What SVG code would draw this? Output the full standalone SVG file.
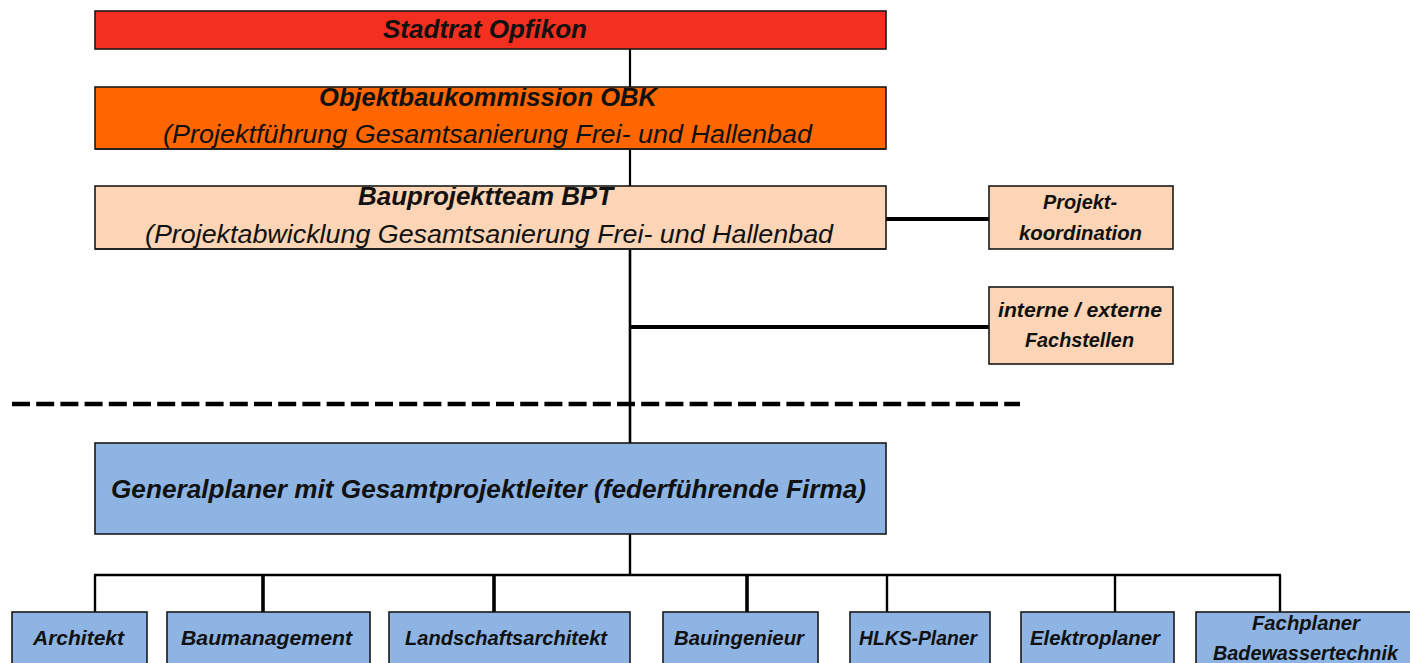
<svg xmlns="http://www.w3.org/2000/svg" width="1410" height="663" viewBox="0 0 1410 663">
<style>
.box{stroke:#1a1a1a;stroke-width:1.6}
.red{fill:#F32F1F}
.orange{fill:#FF6600}
.peach{fill:#FBD5B5}
.blue{fill:#8DB4E2}
text{font-family:"Liberation Sans",Arial,sans-serif;font-style:italic;fill:#111}
.b{font-weight:bold}
.t22{font-size:25px}
.t17{font-size:20px}
.t19{font-size:21px}
.ln{stroke:#000;fill:none}
</style>
<defs>
<clipPath id="cOBK"><rect x="95" y="88" width="791" height="60"/></clipPath>
<clipPath id="cBPT"><rect x="95" y="187" width="791" height="61"/></clipPath>
</defs>
<rect width="1410" height="663" fill="#fff"/>
<g id="connectors">
<line class="ln" x1="630" y1="49" x2="630" y2="87" stroke-width="2.2"/>
<line class="ln" x1="630" y1="149" x2="630" y2="186" stroke-width="2.2"/>
<line class="ln" x1="630" y1="249" x2="630" y2="443" stroke-width="2.6"/>
<line class="ln" x1="886" y1="219" x2="989" y2="219" stroke-width="4"/>
<line class="ln" x1="630" y1="327" x2="989" y2="327" stroke-width="3.8"/>
<line class="ln" x1="630" y1="534" x2="630" y2="575" stroke-width="2.4"/>
<line class="ln" x1="94" y1="575" x2="1281" y2="575" stroke-width="2.6"/>
<line class="ln" x1="95" y1="575" x2="95" y2="612" stroke-width="2.4"/>
<line class="ln" x1="263" y1="575" x2="263" y2="612" stroke-width="3.6"/>
<line class="ln" x1="494" y1="575" x2="494" y2="612" stroke-width="3.6"/>
<line class="ln" x1="747" y1="575" x2="747" y2="612" stroke-width="3.6"/>
<line class="ln" x1="887" y1="575" x2="887" y2="612" stroke-width="2.4"/>
<line class="ln" x1="1115" y1="575" x2="1115" y2="612" stroke-width="2.4"/>
<line class="ln" x1="1280" y1="575" x2="1280" y2="612" stroke-width="2.4"/>
<line class="ln" x1="12" y1="404" x2="1020" y2="404" stroke-width="4.5" stroke-dasharray="18,6.2"/>
</g>
<g id="stadtrat">
<rect class="box red" x="95" y="11" width="791" height="38"/>
<text class="b t22" x="383" y="38" textLength="204" lengthAdjust="spacingAndGlyphs">Stadtrat Opfikon</text>
</g>
<g id="obk">
<rect class="box orange" x="95" y="87" width="791" height="62"/>
<g clip-path="url(#cOBK)">
<text class="b t22" x="319" y="106" textLength="338" lengthAdjust="spacingAndGlyphs">Objektbaukommission OBK</text>
<text class="t22" x="163" y="143" textLength="649" lengthAdjust="spacingAndGlyphs">(Projektführung Gesamtsanierung Frei- und Hallenbad</text>
</g>
<line x1="95" y1="149" x2="886" y2="149" stroke="#1a1a1a" stroke-width="1.6"/>
</g>
<g id="bpt">
<rect class="box peach" x="95" y="186" width="791" height="63"/>
<g clip-path="url(#cBPT)">
<text class="b t22" x="358" y="205" textLength="255" lengthAdjust="spacingAndGlyphs">Bauprojektteam BPT</text>
<text class="t22" x="145" y="243" textLength="688" lengthAdjust="spacingAndGlyphs">(Projektabwicklung Gesamtsanierung Frei- und Hallenbad</text>
</g>
<line x1="95" y1="249" x2="886" y2="249" stroke="#1a1a1a" stroke-width="1.6"/>
</g>
<g id="projektkoordination">
<rect class="box peach" x="989" y="186" width="184" height="63"/>
<text class="b t17" x="1043" y="209" textLength="74" lengthAdjust="spacingAndGlyphs">Projekt-</text>
<text class="b t17" x="1019" y="240" textLength="123" lengthAdjust="spacingAndGlyphs">koordination</text>
</g>
<g id="fachstellen">
<rect class="box peach" x="989" y="287" width="184" height="77"/>
<text class="b t17" x="998" y="317" textLength="164" lengthAdjust="spacingAndGlyphs">interne / externe</text>
<text class="b t17" x="1025" y="347" textLength="109" lengthAdjust="spacingAndGlyphs">Fachstellen</text>
</g>
<g id="generalplaner">
<rect class="box blue" x="95" y="443" width="791" height="91"/>
<text class="b t22" x="111" y="498" textLength="755" lengthAdjust="spacingAndGlyphs">Generalplaner mit Gesamtprojektleiter (federführende Firma)</text>
</g>
<g id="architekt">
<rect class="box blue" x="12" y="612" width="135" height="60"/>
<text class="b t19" x="33" y="645" textLength="91" lengthAdjust="spacingAndGlyphs">Architekt</text>
</g>
<g id="baumanagement">
<rect class="box blue" x="167" y="612" width="203" height="60"/>
<text class="b t19" x="181" y="645" textLength="171" lengthAdjust="spacingAndGlyphs">Baumanagement</text>
</g>
<g id="landschaftsarchitekt">
<rect class="box blue" x="389" y="612" width="241" height="60"/>
<text class="b t19" x="405" y="645" textLength="202" lengthAdjust="spacingAndGlyphs">Landschaftsarchitekt</text>
</g>
<g id="bauingenieur">
<rect class="box blue" x="663" y="612" width="155" height="60"/>
<text class="b t19" x="674" y="645" textLength="130" lengthAdjust="spacingAndGlyphs">Bauingenieur</text>
</g>
<g id="hlks">
<rect class="box blue" x="850" y="612" width="140" height="60"/>
<text class="b t19" x="859" y="645" textLength="118" lengthAdjust="spacingAndGlyphs">HLKS-Planer</text>
</g>
<g id="elektroplaner">
<rect class="box blue" x="1021" y="612" width="153" height="60"/>
<text class="b t19" x="1030" y="645" textLength="130" lengthAdjust="spacingAndGlyphs">Elektroplaner</text>
</g>
<g id="fachplaner">
<rect class="box blue" x="1196" y="612" width="220" height="60"/>
<text class="b t19" x="1252" y="630" textLength="108" lengthAdjust="spacingAndGlyphs">Fachplaner</text>
<text class="b t19" x="1213" y="660" textLength="185" lengthAdjust="spacingAndGlyphs">Badewassertechnik</text>
</g>
</svg>
